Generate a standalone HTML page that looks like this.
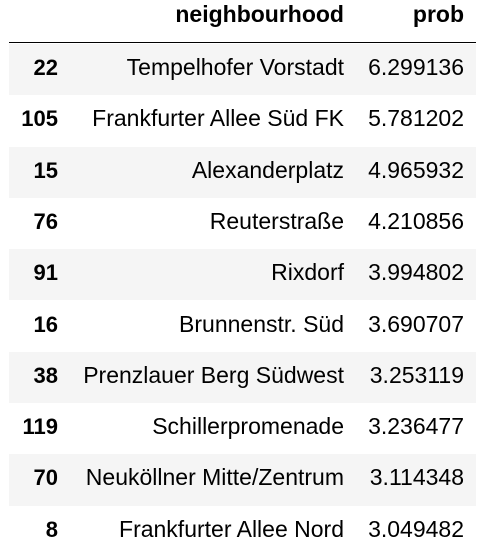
<!DOCTYPE html>
<html><head><meta charset="utf-8"><style>
body{margin:0;width:482px;height:550px;overflow:hidden;background:#fff;font-family:"Liberation Sans",sans-serif;font-size:23px;color:#000}
.r{position:absolute;left:9px;width:467px;height:51.3px}
.c{position:absolute;text-align:right;white-space:nowrap;line-height:47px;top:0}
.i{right:418px;font-weight:bold;font-size:22px}
.n{right:132px}
.p{right:12px}
</style></head><body>
<div>
<div class="r" style="top:0;height:42px;border-bottom:1.5px solid #000">
<div class="c n" style="font-weight:bold;line-height:29px">neighbourhood</div>
<div class="c p" style="font-weight:bold;line-height:29px">prob</div>
</div>
<div id="body"></div>
</div>
<script>
const idx=[22,105,15,76,91,16,38,119,70,8];
const names=["Tempelhofer Vorstadt","Frankfurter Allee Süd FK","Alexanderplatz","Reuterstraße","Rixdorf","Brunnenstr. Süd","Prenzlauer Berg Südwest","Schillerpromenade","Neuköllner Mitte/Zentrum","Frankfurter Allee Nord"];
const probs=["6.299136","5.781202","4.965932","4.210856","3.994802","3.690707","3.253119","3.236477","3.114348","3.049482"];
const b=document.getElementById('body');
idx.forEach((v,k)=>{
const r=document.createElement('div');r.className='r';


r.style.top=(44+k*51.3)+'px';
r.style.background=k%2==0?'#f5f5f5':'#fff';
const a=document.createElement('div');a.className='c i';a.textContent=v;


const n=document.createElement('div');n.className='c n';n.textContent=names[k];


const p=document.createElement('div');p.className='c p';p.textContent=probs[k];


r.append(a,n,p);b.appendChild(r);
});
</script>
</body></html>
